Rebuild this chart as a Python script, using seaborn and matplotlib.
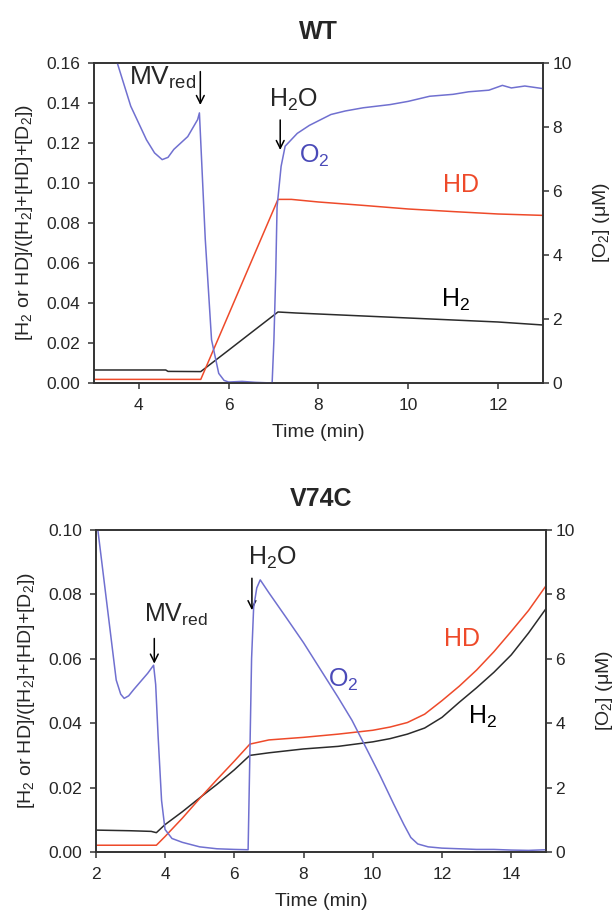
import numpy as np
import pandas as pd
import matplotlib
matplotlib.use("Agg")
import matplotlib.pyplot as plt
import seaborn as sns

# ---------------- DATA ----------------

# WT panel
wt_h2_t = [3.0, 4.6, 4.65, 5.38, 6.0, 6.5, 7.1, 7.5, 8.0, 9.0, 10.0, 11.0, 12.0, 13.0]
wt_h2 = [0.0065, 0.0065, 0.0058, 0.0057, 0.0164, 0.0251, 0.0355, 0.0350, 0.0345,
         0.0335, 0.0325, 0.0315, 0.0305, 0.0290]

wt_hd_t = [3.0, 5.38, 6.0, 6.5, 7.1, 7.4, 8.0, 9.0, 10.0, 11.0, 12.0, 13.0]
wt_hd = [0.0018, 0.0018, 0.0342, 0.0604, 0.0918, 0.0918, 0.0905, 0.0888, 0.0870,
         0.0857, 0.0845, 0.0838]

wt_o2_t = [3.0, 3.52, 3.82, 4.17, 4.35, 4.52, 4.65, 4.78, 5.09, 5.31, 5.35, 5.48,
           5.62, 5.78, 5.9, 6.0, 6.3, 6.6, 6.97, 7.01, 7.05, 7.08, 7.17, 7.26,
           7.53, 7.8, 8.28, 8.6, 9.0, 9.6, 10.0, 10.48, 11.0, 11.35, 11.8, 12.1,
           12.3, 12.6, 13.0]
wt_o2 = [11.8, 10.0, 8.65, 7.6, 7.19, 6.98, 7.05, 7.3, 7.7, 8.23, 8.44, 4.5,
         1.35, 0.3, 0.08, 0.03, 0.05, 0.02, 0.0, 1.35, 3.4, 5.5, 6.77, 7.4,
         7.8, 8.05, 8.39, 8.5, 8.6, 8.7, 8.8, 8.96, 9.02, 9.1, 9.15, 9.3,
         9.22, 9.28, 9.2]

# V74C panel
v_h2_t = [2.0, 3.0, 3.6, 3.75, 4.0, 4.5, 5.0, 5.5, 6.0, 6.45, 7.0, 8.0, 9.0,
          10.0, 10.5, 11.0, 11.5, 12.0, 12.5, 13.0, 13.5, 14.0, 14.5, 15.0]
v_h2 = [0.0068, 0.0066, 0.0064, 0.0060, 0.0085, 0.0125, 0.0168, 0.0210, 0.0255,
        0.0300, 0.0308, 0.0320, 0.0328, 0.0342, 0.0352, 0.0366, 0.0385, 0.0418,
        0.0465, 0.0510, 0.0558, 0.0612, 0.0680, 0.0755]

v_hd_t = [2.0, 3.0, 3.75, 4.0, 4.5, 5.0, 5.5, 6.0, 6.45, 7.0, 8.0, 9.0, 10.0,
          10.5, 11.0, 11.5, 12.0, 12.5, 13.0, 13.5, 14.0, 14.5, 15.0]
v_hd = [0.0021, 0.0021, 0.0021, 0.0048, 0.0105, 0.0166, 0.0225, 0.0282, 0.0335,
        0.0348, 0.0356, 0.0366, 0.0378, 0.0388, 0.0402, 0.0428, 0.0470, 0.0515,
        0.0565, 0.0622, 0.0685, 0.0750, 0.0826]

v_o2_t = [2.0, 2.06, 2.31, 2.59, 2.72, 2.82, 2.95, 3.1, 3.3, 3.5, 3.67, 3.73,
          3.8, 3.9, 4.0, 4.2, 4.5, 5.0, 5.5, 6.0, 6.4, 6.45, 6.5, 6.56, 6.65,
          6.75, 7.0, 7.5, 8.0, 8.5, 9.0, 9.4, 9.8, 10.2, 10.6, 10.9, 11.1, 11.3,
          11.6, 12.0, 12.5, 13.0, 13.5, 14.0, 14.5, 15.0]
v_o2 = [10.6, 10.0, 7.8, 5.34, 4.9, 4.77, 4.85, 5.05, 5.3, 5.55, 5.8, 5.2,
        3.6, 1.6, 0.7, 0.42, 0.3, 0.16, 0.1, 0.08, 0.07, 3.0, 6.0, 7.6, 8.2,
        8.45, 8.05, 7.28, 6.5, 5.65, 4.8, 4.09, 3.25, 2.4, 1.5, 0.85, 0.45, 0.25,
        0.16, 0.12, 0.1, 0.08, 0.08, 0.06, 0.05, 0.07]

wt_yticks = [0.00, 0.02, 0.04, 0.06, 0.08, 0.10, 0.12, 0.14, 0.16]
v_yticks = [0.00, 0.02, 0.04, 0.06, 0.08, 0.10]
o2_ticks = [0, 2, 4, 6, 8, 10]
wt_xticks = [4, 6, 8, 10, 12]
v_xticks = [2, 4, 6, 8, 10, 12, 14]

# ---------------- STYLE ----------------

sns.set_style("ticks")
plt.rcParams["font.family"] = ["Liberation Sans", "DejaVu Sans"]
plt.rcParams["mathtext.default"] = "regular"

BLACK = "#2b2b2b"
RED = "#ee4a2a"
BLUE = "#7070d0"
BLUE_TXT = "#4a4ab8"
SPINE = "#333333"

YLABEL = "[H$_2$ or HD]/([H$_2$]+[HD]+[D$_2$])"


def style_axes(ax, ax2):
    for a in (ax, ax2):
        for s in a.spines.values():
            s.set_color(SPINE)
            s.set_linewidth(1.2)
    ax.tick_params(axis="both", labelsize=12.5, length=4, width=1.1, color=SPINE)
    ax.tick_params(axis="x", pad=7)
    ax.tick_params(axis="y", pad=6)
    ax2.tick_params(axis="y", labelsize=12.5, length=4, width=1.1, color=SPINE, pad=3)


def arrow(ax, x, y0, y1):
    ax.annotate("", xy=(x, y1), xytext=(x, y0),
                arrowprops=dict(arrowstyle="->", lw=1.1, color="black",
                                mutation_scale=14, shrinkA=0, shrinkB=0))


def draw_panel(ax, title, h2_t, h2, hd_t, hd, o2_t, o2, xlim, xticks, ylim, yticks):
    ax2 = ax.twinx()
    sns.lineplot(x=h2_t, y=h2, ax=ax, color=BLACK, lw=1.1, estimator=None, sort=False)
    sns.lineplot(x=hd_t, y=hd, ax=ax, color=RED, lw=1.1, estimator=None, sort=False)
    sns.lineplot(x=o2_t, y=o2, ax=ax2, color=BLUE, lw=1.1, estimator=None, sort=False)

    ax.set_xlim(*xlim)
    ax.set_ylim(*ylim)
    ax2.set_ylim(0, 10)
    ax.set_xticks(xticks)
    ax.set_yticks(yticks)
    ax.set_yticklabels([f"{v:.2f}" for v in yticks])
    ax2.set_yticks(o2_ticks)

    ax.set_xlabel("Time (min)", fontsize=14, labelpad=8)
    ax.set_ylabel(YLABEL, fontsize=14, labelpad=8)
    ax2.set_ylabel("[O$_2$] (\u03bcM)", fontsize=14, labelpad=14)
    ax.set_title(title, fontsize=18, fontweight="bold", pad=17)
    style_axes(ax, ax2)
    return ax2


fig = plt.figure(figsize=(6.14, 9.18), dpi=100)

# ---------------- WT ----------------
ax = fig.add_axes([0.153, 0.5828, 0.731, 0.3486])
draw_panel(ax, "WT", wt_h2_t, wt_h2, wt_hd_t, wt_hd, wt_o2_t, wt_o2,
           (3, 13), wt_xticks, (0, 0.16), wt_yticks)
ax.text(4.54, 0.149, "MV$_{red}$", fontsize=19, ha="center", va="baseline")
arrow(ax, 5.37, 0.1557, 0.139)
ax.text(7.45, 0.138, "H$_2$O", fontsize=18, ha="center", va="baseline")
arrow(ax, 7.15, 0.1315, 0.1165)
ax.text(7.91, 0.110, "O$_2$", fontsize=18, ha="center", va="baseline", color=BLUE_TXT)
ax.text(11.17, 0.0957, "HD", fontsize=18, ha="center", va="baseline", color=RED)
ax.text(11.06, 0.0382, "H$_2$", fontsize=18, ha="center", va="baseline", color="black")

# ---------------- V74C ----------------
ax = fig.add_axes([0.156, 0.0719, 0.733, 0.3508])
draw_panel(ax, "V74C", v_h2_t, v_h2, v_hd_t, v_hd, v_o2_t, v_o2,
           (2, 15), v_xticks, (0, 0.10), v_yticks)
ax.text(4.32, 0.0715, "MV$_{red}$", fontsize=18, ha="center", va="baseline")
arrow(ax, 3.69, 0.0663, 0.0585)
ax.text(7.10, 0.0891, "H$_2$O", fontsize=18, ha="center", va="baseline")
arrow(ax, 6.51, 0.085, 0.0751)
ax.text(9.14, 0.0513, "O$_2$", fontsize=18, ha="center", va="baseline", color=BLUE_TXT)
ax.text(12.58, 0.0639, "HD", fontsize=18, ha="center", va="baseline", color=RED)
ax.text(13.17, 0.0399, "H$_2$", fontsize=18, ha="center", va="baseline", color="black")

fig.savefig("out.png", dpi=100)
